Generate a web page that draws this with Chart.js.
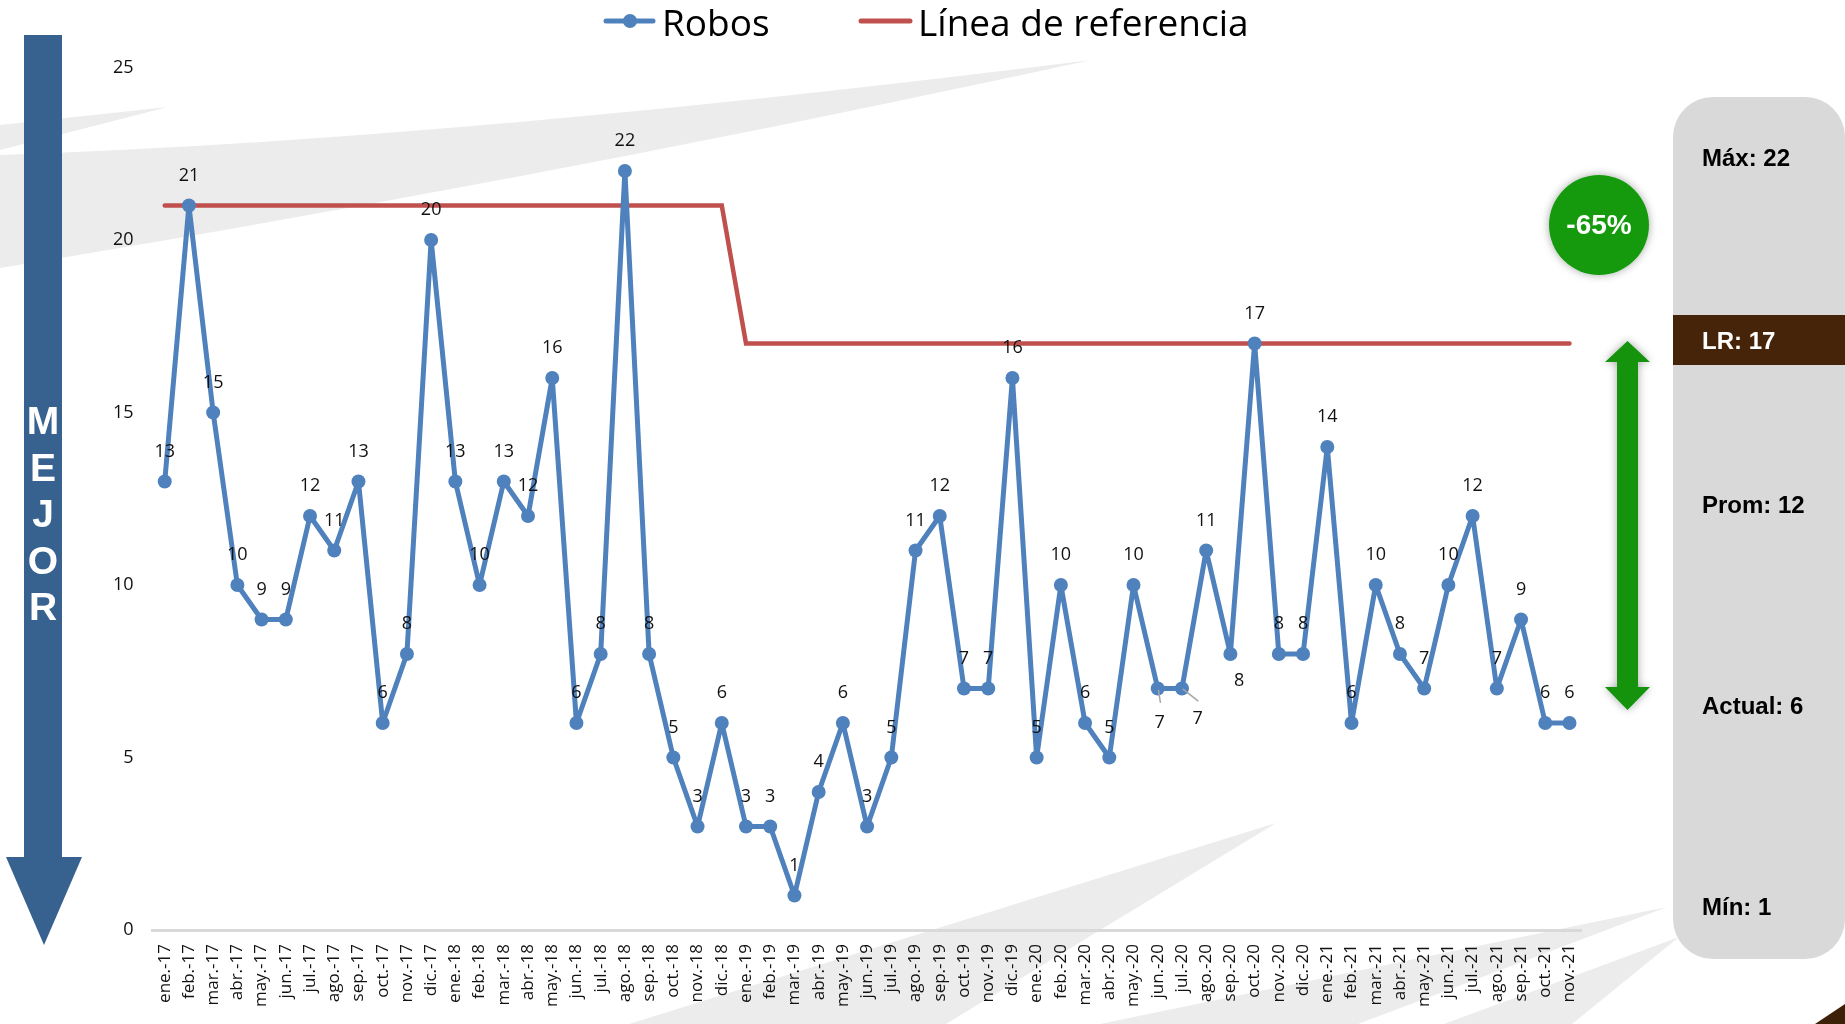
<!DOCTYPE html>
<html>
<head>
<meta charset="utf-8">
<script src="https://cdn.jsdelivr.net/npm/chart.js@4.4.1/dist/chart.umd.min.js"></script>
<style>
html,body{margin:0;padding:0;background:#fff;width:1845px;height:1024px;overflow:hidden;font-family:"Open Sans",sans-serif;}
#bg,#fg{position:absolute;left:0;top:0;}
#c{position:absolute;left:0;top:0;}
.leg{position:absolute;top:1px;font-size:37px;line-height:42px;color:#000;white-space:nowrap;}
.mejor{position:absolute;left:3px;width:80px;top:398px;text-align:center;color:#fff;font-family:"Liberation Sans",Arial,sans-serif;font-weight:bold;font-size:39px;line-height:46.5px;}
.pt{position:absolute;left:1702px;font-family:"Liberation Sans",Arial,sans-serif;font-weight:bold;font-size:24px;line-height:30px;color:#000;transform:translateY(-50%);white-space:nowrap;}
.pct{position:absolute;left:1549px;width:100px;top:225px;transform:translateY(-50%);text-align:center;color:#fff;font-family:"Liberation Sans",Arial,sans-serif;font-weight:bold;font-size:28px;line-height:34px;}
</style>
</head>
<body>
<svg id="bg" width="1845" height="1024">
  <path d="M0,125 L168,107 L0,150 Z" fill="#ececec"/>
  <path d="M0,155 Q454,140 1091,60 Q544,179 0,268 Z" fill="#ececec"/>
  <path d="M629,1024 L1276,823 L946,1024 Z" fill="#ececec"/>
  <path d="M1100,1024 L1667,907 L1358,1024 Z" fill="#ececec"/>
  <path d="M1444,1024 L1679,937 L1572,1024 Z" fill="#ececec"/>
</svg>
<canvas id="c" width="1845" height="1024"></canvas>
<svg id="fg" width="1845" height="1024">
  <defs>
    <filter id="sh" x="-50%" y="-50%" width="200%" height="200%">
      <feDropShadow dx="0" dy="0" stdDeviation="4" flood-color="#000" flood-opacity="0.35"/>
    </filter>
  </defs>
  <path d="M24,35 L62,35 L62,857 L82,857 L44,945 L6,857 L24,857 Z" fill="#37618f"/>
  <line x1="606" y1="21" x2="653" y2="21" stroke="#4f81bd" stroke-width="5" stroke-linecap="round"/>
  <circle cx="630" cy="21" r="7" fill="#4f81bd"/>
  <line x1="861" y1="21" x2="910" y2="21" stroke="#c0504d" stroke-width="5" stroke-linecap="round"/>
  <circle cx="1599" cy="225" r="50" fill="#169a11" filter="url(#sh)"/>
  <path d="M1627.5,341 L1650,362 L1638,362 L1638,687 L1650,687 L1627.5,710 L1605,687 L1617,687 L1617,362 L1605,362 Z" fill="#14930b" filter="url(#sh)"/>
  <rect x="1673" y="97" width="172" height="862" rx="40" ry="40" fill="#d9d9d9"/>
  <rect x="1673" y="315" width="172" height="50" fill="#46240a"/>
  <path d="M1815,1024 L1845,1004 L1845,1024 Z" fill="#3d2008"/>
</svg>
<div class="leg" style="left:662px;">Robos</div>
<div class="leg" style="left:918px;">Línea de referencia</div>
<div class="mejor">M<br>E<br>J<br>O<br>R</div>
<div class="pct">-65%</div>
<div class="pt" style="top:157.5px;">Máx: 22</div>
<div class="pt" style="top:341px;color:#fff;">LR: 17</div>
<div class="pt" style="top:505px;">Prom: 12</div>
<div class="pt" style="top:706px;">Actual: 6</div>
<div class="pt" style="top:907px;">Mín: 1</div>
<script>
const categories = [
  'ene.-17','feb.-17','mar.-17','abr.-17','may.-17','jun.-17','jul.-17','ago.-17','sep.-17','oct.-17','nov.-17','dic.-17',
  'ene.-18','feb.-18','mar.-18','abr.-18','may.-18','jun.-18','jul.-18','ago.-18','sep.-18','oct.-18','nov.-18','dic.-18',
  'ene.-19','feb.-19','mar.-19','abr.-19','may.-19','jun.-19','jul.-19','ago.-19','sep.-19','oct.-19','nov.-19','dic.-19',
  'ene.-20','feb.-20','mar.-20','abr.-20','may.-20','jun.-20','jul.-20','ago.-20','sep.-20','oct.-20','nov.-20','dic.-20',
  'ene.-21','feb.-21','mar.-21','abr.-21','may.-21','jun.-21','jul.-21','ago.-21','sep.-21','oct.-21','nov.-21'
];
const robos = [
  13,21,15,10,9,9,12,11,13,6,8,20,
  13,10,13,12,16,6,8,22,8,5,3,6,
  3,3,1,4,6,3,5,11,12,7,7,16,
  5,10,6,5,10,7,7,11,8,17,8,8,
  14,6,10,8,7,10,12,7,9,6,6
];
const referencia = [
  21,21,21,21,21,21,21,21,21,21,21,21,
  21,21,21,21,21,21,21,21,21,21,21,21,
  17,17,17,17,17,17,17,17,17,17,17,17,
  17,17,17,17,17,17,17,17,17,17,17,17,
  17,17,17,17,17,17,17,17,17,17,17
];
const yTicks = [0,5,10,15,20,25];

const labelPlugin = {
  id: 'pointLabels',
  afterDatasetsDraw(chart, args, opts) {
    const ctx = chart.ctx;
    const meta = chart.getDatasetMeta(0);
    const data = chart.data.datasets[0].data;
    ctx.save();
    ctx.font = opts.font;
    ctx.fillStyle = opts.color;
    ctx.textAlign = 'center';
    ctx.textBaseline = 'middle';
    meta.data.forEach((pt, i) => {
      const off = opts.special[i] || { dx: 0, dy: opts.dy };
      if (off.leader) {
        ctx.strokeStyle = '#a6a6a6';
        ctx.lineWidth = 1.5;
        ctx.beginPath();
        ctx.moveTo(pt.x + off.leader[0], pt.y + off.leader[1]);
        ctx.lineTo(pt.x + off.leader[2], pt.y + off.leader[3]);
        ctx.stroke();
      }
      ctx.fillText(String(data[i]), pt.x + off.dx, pt.y + off.dy);
    });
    ctx.restore();
  }
};

Chart.defaults.font.family = "'Open Sans', sans-serif";
new Chart(document.getElementById('c'), {
  type: 'line',
  data: {
    labels: categories,
    datasets: [
      {
        label: 'Robos', data: robos,
        borderColor: '#4f81bd', backgroundColor: '#4f81bd',
        borderWidth: 5, pointRadius: 7, pointBorderWidth: 0,
        pointBackgroundColor: '#4f81bd', tension: 0, borderJoinStyle: 'round'
      },
      {
        label: 'Línea de referencia', data: referencia,
        borderColor: '#c0504d', backgroundColor: '#c0504d',
        borderWidth: 4.5, pointRadius: 0, tension: 0, borderCapStyle: 'round'
      }
    ]
  },
  options: {
    responsive: false,
    devicePixelRatio: 1,
    animation: false,
    layout: { padding: { top: 67.5, right: 263.4, left: 0, bottom: 0 } },
    plugins: {
      legend: { display: false },
      tooltip: { enabled: false },
      pointLabels: {
        font: "18px 'Open Sans', sans-serif",
        color: '#111',
        dy: -30,
        special: {
          41: { dx: 2, dy: 34, leader: [0.7, 1.3, 2.7, 14.3] },
          42: { dx: 15.7, dy: 30, leader: [0.7, 0.3, 16.3, 12.7] },
          44: { dx: 8.7, dy: 26.4 }
        }
      }
    },
    scales: {
      x: {
        offset: true,
        grid: { display: false, drawTicks: false, offset: true },
        border: { display: true, color: '#d9d9d9', width: 3 },
        ticks: { autoSkip: false, minRotation: 90, maxRotation: 90, padding: 14, color: '#111', font: { size: 17 } },
        afterFit(scale) { scale.height = 94; }
      },
      y: {
        min: 0, max: 25,
        grid: { display: false, drawTicks: false },
        border: { display: false },
        afterBuildTicks(scale) { scale.ticks = yTicks.map(v => ({ value: v })); },
        ticks: { padding: 19, color: '#111', font: { size: 18 } },
        afterFit(scale) { scale.width = 152.6; }
      }
    }
  },
  plugins: [labelPlugin]
});
</script>
</body>
</html>
